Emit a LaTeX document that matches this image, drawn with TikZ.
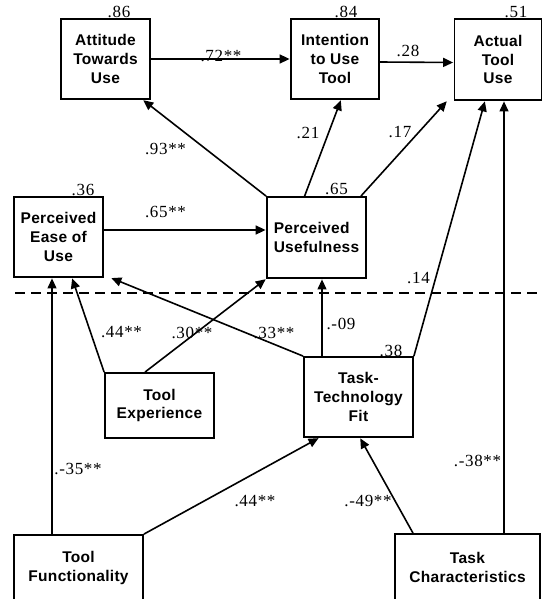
\documentclass[tikz,border=0pt]{standalone}
\usepackage{fontspec}
\setmainfont{Liberation Serif}[LetterSpace=4]
\newfontfamily\boxfont[LetterSpace=2]{Liberation Sans}
\usetikzlibrary{arrows.meta}
\tikzset{
  construct/.style={draw, line width=1.8pt, inner sep=0pt, align=center,
    font=\boxfont\bfseries\fontsize{15.5}{18.7}\selectfont},
  link/.style={line width=1.6pt, shorten >=0.5pt, -{Triangle[length=10pt,width=9pt]}},
  thinlink/.style={link, line width=1.2pt},
  coef/.style={inner sep=0pt, font=\fontsize{17}{19}\selectfont},
  divider/.style={line width=1.3pt, dash pattern=on 10pt off 6pt},
}
\begin{document}
\begin{tikzpicture}[x=1pt,y=-1pt]
\useasboundingbox (0,0) rectangle (543,599);

% constructs
\node[construct, minimum width=89pt, minimum height=80pt] (att) at (105.5,59) {Attitude\\Towards\\Use};
\node[construct, minimum width=88pt, minimum height=80pt] (int) at (335,59) {Intention\\to Use\\Tool};
\node[construct, minimum width=87pt, minimum height=81pt] (act) at (498,59.5) {Actual\\Tool\\Use};
\node[construct, minimum width=89pt, minimum height=80pt] (peou) at (58.5,237) {Perceived\\Ease of\\Use};
\node[construct, minimum width=99pt, minimum height=81pt, align=left] (pu) at (316.5,237.5) {Perceived\\Usefulness};
\node[construct, minimum width=109pt, minimum height=65pt] (te) at (159.5,405.5) {Tool\\Experience};
\node[construct, minimum width=109pt, minimum height=80pt] (ttf) at (358.5,397) {Task-\\Technology\\Fit};
\node[construct, minimum width=129pt, minimum height=66pt] (tf) at (78.5,568) {Tool\\Functionality};
\node[construct, minimum width=145pt, minimum height=67pt] (tc) at (467.5,567.5) {Task\\Characteristics};

% explained variance
\node[coef] (r-att) at (119,12) {.86};
\node[coef] (r-int) at (346,12) {.84};
\node[coef] (r-act) at (516,12) {.51};
\node[coef] (r-peou) at (83,190) {.36};
\node[coef] (r-pu) at (336.5,189) {.65};
\node[coef] (r-ttf) at (391,351) {.38};

% dashed divider
\coordinate (dl) at (15,293);
\coordinate (dr) at (543,293);
\draw[divider] (dl) -- (dr);

% paths
\draw[link] (att.east) -- (int.west);
\draw[link] ([yshift=-3pt]int.east) -- ([yshift=-3pt]act.west);
\draw[link] (pu.north west) -- ([xshift=-8pt]att.south east);
\draw[link] ([xshift=38.5pt]pu.north west) -- ([xshift=6pt]int.south);
\draw[link] ([xshift=-6pt]pu.north east) -- ([xshift=-6.5pt]act.south west);
\draw[link] (ttf.north east) -- ([xshift=-13pt]act.south);
\draw[thinlink] ([xshift=6pt]act.south |- tc.north) -- ([xshift=6pt]act.south);
\draw[link] ([yshift=7pt]peou.east) -- ([yshift=7pt]peou.east -| pu.west);
\draw[link] ([xshift=-14.5pt]te.north) -- (pu.south west);
\draw[link] (te.north west) -- ([xshift=13.5pt]peou.south);
\draw[link] (ttf.north west) -- ([xshift=7pt]peou.south east);
\draw[thinlink] ([xshift=5.5pt]pu.south |- ttf.north) -- ([xshift=5.5pt]pu.south);
\draw[thinlink] ([xshift=-6.5pt]peou.south |- tf.north) -- ([xshift=-6.5pt]peou.south);
\draw[link] (tf.north east) -- ([xshift=-39.5pt]ttf.south);
\draw[link] ([xshift=-54.5pt]tc.north) -- ([xshift=1.5pt]ttf.south);

% path coefficients
\node[coef] (c-att-int) at (221,56) {.72**};
\node[coef] (c-int-act) at (408,51) {.28};
\node[coef] (c-pu-att) at (165.5,149) {.93**};
\node[coef] (c-pu-int) at (308,132.5) {.21};
\node[coef] (c-pu-act) at (400,132.5) {.17};
\node[coef] (c-peou-pu) at (165.5,212) {.65**};
\node[coef] (c-ttf-act) at (418.5,278) {.14};
\node[coef] (c-te-peou) at (121.5,332.5) {.44**};
\node[coef] (c-te-pu) at (192,332.5) {.30**};
\node[coef] (c-ttf-peou) at (274,333) {.33**};
\node[coef] (c-ttf-pu) at (341,324) {.-09};
\node[coef] (c-tf-peou) at (78,469) {.-35**};
\node[coef] (c-tf-ttf) at (255,501) {.44**};
\node[coef] (c-tc-ttf) at (368,501) {.-49**};
\node[coef] (c-tc-act) at (477.5,461) {.-38**};
\end{tikzpicture}
\end{document}
